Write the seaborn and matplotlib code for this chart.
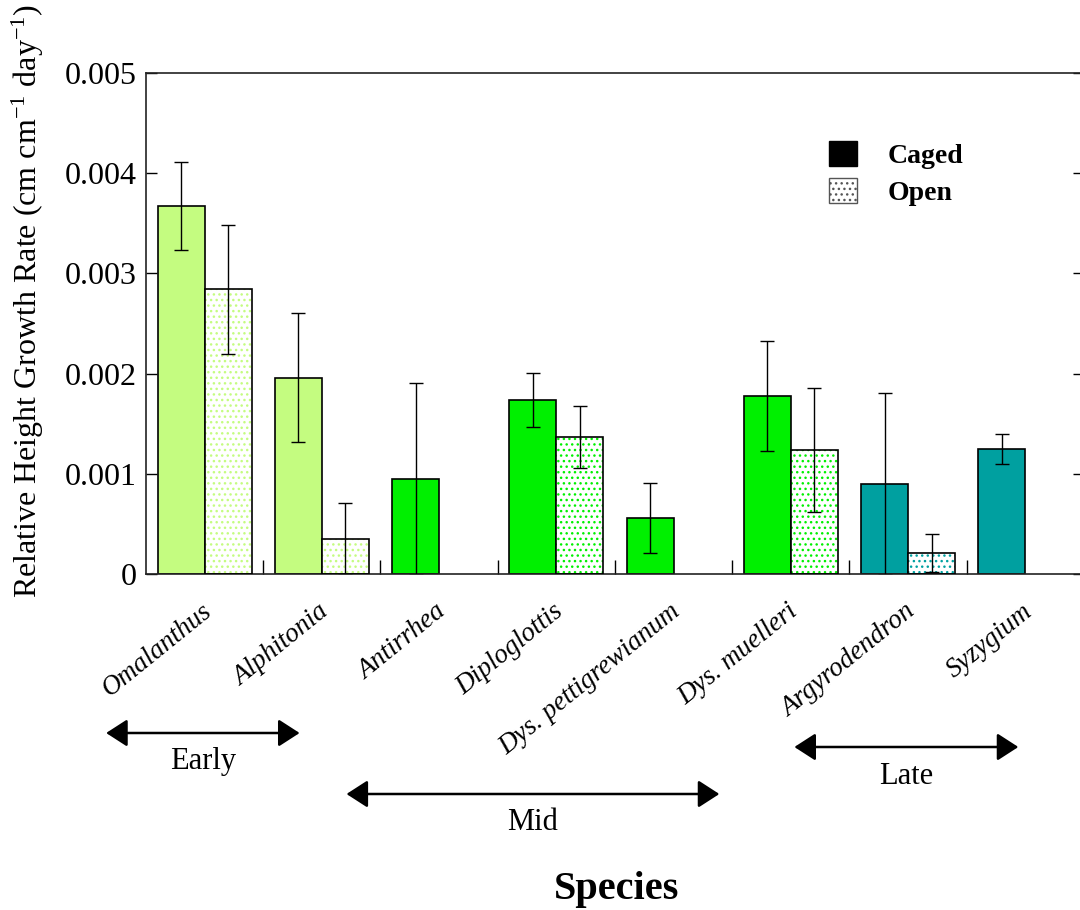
import numpy as np
import pandas as pd
import matplotlib
matplotlib.use("Agg")
import matplotlib.pyplot as plt
import matplotlib.transforms as mtransforms
from matplotlib.patches import Patch, Rectangle
import seaborn as sns

# ---- data -------------------------------------------------------------
species = ["Omalanthus", "Alphitonia", "Antirrhea", "Diploglottis",
           "Dys. pettigrewianum", "Dys. muelleri", "Argyrodendron", "Syzygium"]
stage = ["Early", "Early", "Mid", "Mid", "Mid", "Mid", "Late", "Late"]
caged = [0.00367, 0.00196, 0.00095, 0.00174, 0.00056, 0.00178, 0.00090, 0.00125]
caged_err = [0.00044, 0.00064, 0.00096, 0.00027, 0.00035, 0.00055, 0.00091, 0.00015]
open_plot = [0.00284, 0.00035, np.nan, 0.00137, np.nan, 0.00124, 0.00021, np.nan]
open_err = [0.00064, 0.00036, np.nan, 0.00031, np.nan, 0.00062, 0.00019, np.nan]
treatments = ["Caged", "Open"]
stage_names = ["Early", "Mid", "Late"]
stage_colors = {"Early": "#C4FC80", "Mid": "#00F000", "Late": "#00A0A0"}
y_ticks = [0, 0.001, 0.002, 0.003, 0.004, 0.005]
y_tick_labels = ["0", "0.001", "0.002", "0.003", "0.004", "0.005"]

df = pd.DataFrame({
    "species": species * 2,
    "treatment": ["Caged"] * len(species) + ["Open"] * len(species),
    "rate": caged + open_plot,
})

# ---- style ------------------------------------------------------------
sns.set_style("white")
plt.rcParams["font.family"] = ["Liberation Serif", "DejaVu Serif"]
plt.rcParams["mathtext.fontset"] = "custom"
plt.rcParams["mathtext.rm"] = "Liberation Serif"
plt.rcParams["mathtext.it"] = "Liberation Serif:italic"
plt.rcParams["hatch.linewidth"] = 1.0
for key in ["text.color", "axes.labelcolor", "xtick.color", "ytick.color"]:
    plt.rcParams[key] = "black"

fig = plt.figure(figsize=(10.8, 9.1), dpi=100)
ax = fig.add_axes([146 / 1080, 1 - 574 / 910, 938 / 1080, 501 / 910])

sns.barplot(data=df, x="species", y="rate", hue="treatment", order=species,
            hue_order=treatments, errorbar=None, width=0.8, dodge=True,
            palette={"Caged": "black", "Open": "white"}, legend=False, ax=ax)

# colour each bar by successional stage; open plots get a dotted fill
outline_kw = dict(fill=False, edgecolor="black", linewidth=1.2, zorder=3)
for ci, cont in enumerate(ax.containers):
    for p in cont.patches:
        if np.isnan(p.get_height()):
            continue
        idx = int(round(p.get_x() + p.get_width() / 2))
        col = stage_colors[stage[idx]]
        if treatments[ci] == "Caged":
            p.set_facecolor(col)
            p.set_edgecolor("black")
            p.set_linewidth(1.2)
        else:
            p.set_facecolor("white")
            p.set_edgecolor(col)
            p.set_hatch("...")
            p.set_linewidth(0)
            ax.add_patch(Rectangle((p.get_x(), p.get_y()), p.get_width(),
                                   p.get_height(), **outline_kw))

# error bars
for ci, (vals, errs) in enumerate([(caged, caged_err), (open_plot, open_err)]):
    cont = ax.containers[ci]
    for p in cont.patches:
        if np.isnan(p.get_height()):
            continue
        idx = int(round(p.get_x() + p.get_width() / 2))
        ax.errorbar(p.get_x() + p.get_width() / 2, vals[idx], yerr=errs[idx],
                    fmt="none", ecolor="black", elinewidth=1.0, capsize=5,
                    capthick=1.0, zorder=4)

# ---- axes -------------------------------------------------------------
ax.set_xlim(-0.5, len(species) - 0.5)
ax.set_ylim(0, 0.005)
ax.set_yticks(y_ticks)
ax.set_yticklabels(y_tick_labels, fontsize=23)
ax.tick_params(axis="y", direction="in", left=True, right=True, length=8,
               width=1.0, pad=7, colors="black")
ax.set_xticks(range(len(species)))
ax.set_xticklabels(species, rotation=39, ha="right", fontsize=19.5,
                   fontstyle="italic")
ax.tick_params(axis="x", which="major", length=0, pad=18)
ax.set_xticks(np.arange(0.5, len(species) - 1, 1.0), minor=True)
ax.tick_params(axis="x", which="minor", direction="in", bottom=True,
               length=10, width=1.0)
shift = mtransforms.ScaledTranslation(12 / 100, 0, fig.dpi_scale_trans)
for lab in ax.get_xticklabels():
    lab.set_transform(lab.get_transform() + shift)
ax.set_xlabel("")
ax.set_ylabel("")
for s in ax.spines.values():
    s.set_visible(True)
    s.set_color("#222222")
    s.set_linewidth(1.2)

fig.text(28 / 1080, 1 - 301 / 910,
         r"Relative Height Growth Rate (cm cm$^{-1}$ day$^{-1}$)",
         rotation=90, ha="center", va="center", fontsize=23)
fig.text(617 / 1080, 1 - 889 / 910, "Species", ha="center", va="center",
         fontsize=29, fontweight="bold")

# ---- successional stage arrows ---------------------------------------
stage_span = {"Early": (-0.84, 0.81), "Mid": (1.21, 4.39), "Late": (5.03, 6.94)}
stage_arrow_y = {"Early": 733, "Mid": 794, "Late": 747}
for name in stage_names:
    x0, x1 = stage_span[name]
    yf = 1 - stage_arrow_y[name] / 910
    ax.annotate("", xy=(x1, yf), xytext=(x0, yf),
                xycoords=("data", "figure fraction"),
                textcoords=("data", "figure fraction"),
                arrowprops=dict(arrowstyle="<|-|>,head_length=0.65,head_width=0.42",
                                color="black", lw=1.8, mutation_scale=20,
                                shrinkA=0, shrinkB=0),
                annotation_clip=False)
    ax.annotate(name, xy=((x0 + x1) / 2, 1 - (stage_arrow_y[name] + 29) / 910),
                xycoords=("data", "figure fraction"), ha="center", va="center",
                fontsize=22, annotation_clip=False)

# ---- legend -----------------------------------------------------------
handles = [Patch(facecolor="black", edgecolor="black", label="Caged"),
           Patch(facecolor="white", edgecolor="#555555", hatch="...",
                 label="Open")]
leg = ax.legend(handles=handles, loc="upper left",
                bbox_to_anchor=(829 / 1080, 1 - 141 / 910),
                bbox_transform=fig.transFigure, frameon=False, borderpad=0,
                borderaxespad=0, handlelength=1.0, handleheight=1.0,
                handletextpad=1.1, labelspacing=0.33,
                prop={"size": 20, "weight": "bold"})

fig.savefig("out.png", dpi=100)
